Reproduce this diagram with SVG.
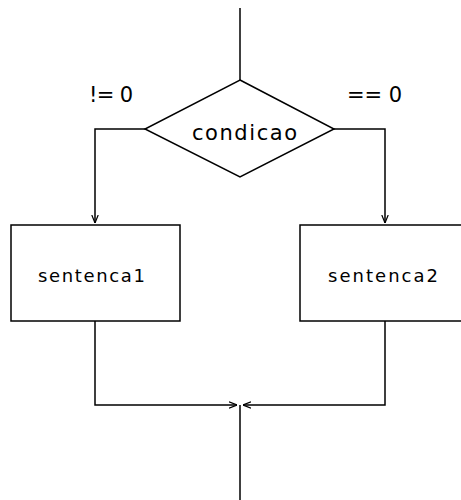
<svg xmlns="http://www.w3.org/2000/svg" width="461" height="500" viewBox="0 0 461 500">
<style>
.s{fill:#fff;stroke:#000;stroke-width:1.5}
.c{fill:none;stroke:#000;stroke-width:1.5}
text{font-family:"DejaVu Sans","Liberation Sans",sans-serif;font-size:21px;fill:#000}
.b{font-size:18px}
</style>
<defs>
<marker id="a" viewBox="0 0 10 10" refX="10" refY="5" markerWidth="8" markerHeight="8" orient="auto" markerUnits="userSpaceOnUse">
<path d="M0,1 L10,5 L0,9" fill="none" stroke="#000" stroke-width="1.5"/>
</marker>
</defs>
<g id="connectors">
<line class="c" x1="240" y1="8" x2="240" y2="80"/>
<polyline class="c" points="145,129 95,129 95,223" marker-end="url(#a)"/>
<polyline class="c" points="334,129 385,129 385,223" marker-end="url(#a)"/>
<polyline class="c" points="95,321 95,405 237,405" marker-end="url(#a)"/>
<polyline class="c" points="385,321 385,405 243,405" marker-end="url(#a)"/>
<line class="c" x1="240" y1="405" x2="240" y2="500"/>
</g>
<g id="cond">
<polygon class="s" points="240,80 334,129 240,177 145,129"/>
<text x="192" y="140" textLength="105" lengthAdjust="spacing">condicao</text>
</g>
<g id="s1">
<rect class="s" x="11" y="225" width="169" height="96"/>
<text class="b" x="38" y="282" textLength="107" lengthAdjust="spacing">sentenca1</text>
</g>
<g id="s2">
<rect class="s" x="300" y="225" width="170" height="96"/>
<text class="b" x="328" y="282" textLength="110" lengthAdjust="spacing">sentenca2</text>
</g>
<g id="labels">
<text x="89" y="102" textLength="44" lengthAdjust="spacing">!= 0</text>
<text x="347" y="102" textLength="55" lengthAdjust="spacing">== 0</text>
</g>
</svg>
